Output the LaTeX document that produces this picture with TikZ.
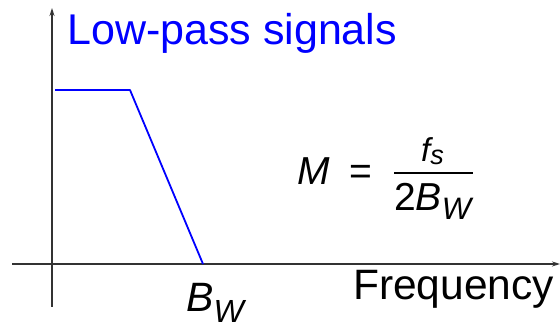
\documentclass[tikz,border=0pt]{standalone}
\usepackage{fontspec}
\setmainfont{Liberation Sans}
\usepackage{xcolor}
\usepackage{tikz}
\usetikzlibrary{arrows.meta,positioning,calc}
\definecolor{sigblue}{RGB}{0,0,255}
\newcommand{\fs}[1]{\fontsize{#1}{#1}\selectfont}

\begin{document}
\begin{tikzpicture}[
            x=1pt,y=1pt,
            axis/.style={-{Stealth[length=8pt,width=5pt]},line width=1.2pt,black!80},
            sig/.style={sigblue,line width=1.8pt,line join=round},
            txt/.style={anchor=base west,inner sep=0pt},
            title/.style={txt,text=sigblue,font=\fs{43}}
        ]
            \useasboundingbox (0,0) rectangle (560,324);
            % axes
            \coordinate (yfoot) at (52,17);
            \coordinate (ytop) at (52,316);
            \coordinate (xleft) at (12,60);
            \coordinate (xright) at (560,60);
            \draw[axis] (yfoot) -- (ytop);
            \draw[axis] (xleft) -- (xright);

            % spectrum
            \coordinate (s0) at (55,234);
            \coordinate (s1) at (130,234);
            \coordinate (bw) at (203,60);
            \draw[sig] (s0) -- (s1) -- (bw);

            \node[title] (ttl) at (67,279) {Low-pass signals};
            \node[txt,font=\fs{42.5}] (freq) at (353,24) {Frequency};
            \node[txt] (bwlbl) at (186,12) {{\fs{41}\itshape B}\raisebox{-11pt}{\fs{32}\itshape W}};

            % M = fs / 2BW
            \node[txt,font=\fs{39}\itshape] (mm) at (297,139) {M};
            \node[txt,font=\fs{39}] (eq) at (349,139) {=};
            \node[txt] (num) at (421,162) {{\fs{33}\itshape f}\raisebox{-3pt}{\fs{27}\itshape s}};
            \node[txt] (den) at (394,113) {{\fs{39}2\itshape B}\raisebox{-9pt}{\fs{31}\itshape W}};
            \coordinate (barl) at (394,151);
            \coordinate (barr) at (473,151);
            \draw[line width=2.6pt] (barl) -- (barr);
        \end{tikzpicture}
\end{document}
